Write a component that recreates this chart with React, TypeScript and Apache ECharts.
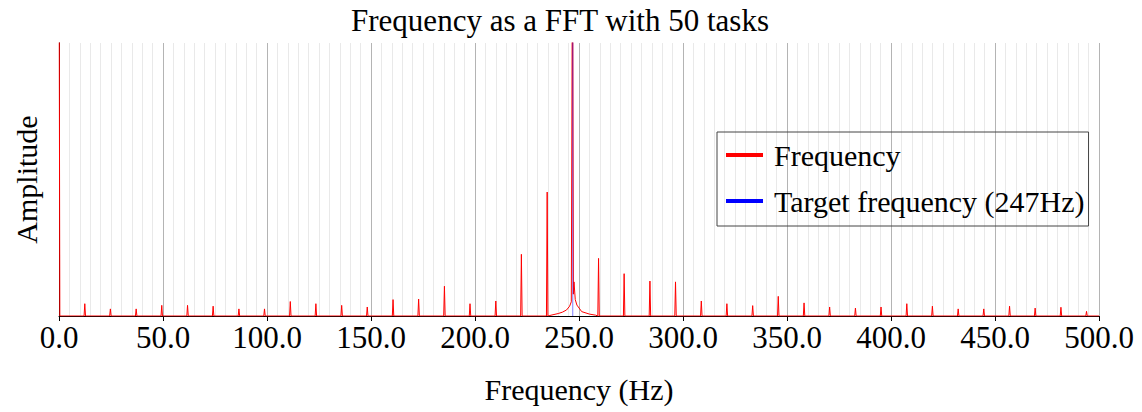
import React, { useEffect, useRef } from "react";
import * as echarts from "echarts";

const TITLE = "Frequency as a FFT with 50 tasks";
const X_NAME = "Frequency (Hz)";
const Y_NAME = "Amplitude";
const SERIES_FFT = "Frequency";
const SERIES_TARGET = "Target frequency (247Hz)";
const TARGET_FREQ = 247;

// x axis ticks (Hz)
const xTicks = [0, 50, 100, 150, 200, 250, 300, 350, 400, 450, 500];

// DC component (goes off the top of the plot)
const dcPoints: [number, number][] = [
  [0, 150],
  [0.4, 0],
];

// harmonic peaks (Hz) and their amplitudes
const peakFreqs = [
  12.4, 24.7, 37.1, 49.4, 61.8, 74.1, 86.5, 98.8, 111.2, 123.5,
  135.9, 148.2, 160.6, 172.9, 185.3, 197.6, 210.0, 222.3, 234.7,
  259.4, 271.7, 284.1, 296.4, 308.8, 321.1, 333.5, 345.8, 358.2, 370.5,
  382.9, 395.2, 407.6, 419.9, 432.3, 444.6, 457.0, 469.3, 481.7, 494.0,
];
const peakAmps = [
  4.5, 2.6, 2.6, 3.9, 3.9, 3.6, 2.6, 2.6, 5.3, 4.5,
  3.9, 3.3, 6.0, 6.2, 10.9, 4.5, 5.5, 22.6, 45.4,
  21.1, 15.5, 12.8, 12.5, 5.5, 4.5, 3.8, 7.2, 4.8, 3.3,
  2.9, 3.3, 4.5, 3.6, 2.6, 2.6, 3.6, 2.9, 3.2, 1.7,
];

// resonance skirt around the target frequency
const skirtFreqs = [236, 240, 242, 244, 245.5, 246.3, 246.9, 247.3, 247.6, 248.2, 249, 251.3, 255, 258];
const skirtAmps = [0.2, 0.9, 1.4, 2.2, 3.6, 5.2, 150, 8, 12.5, 6, 4, 1.6, 0.7, 0.3];

// target frequency marker
const targetPoints: [number, number][] = [
  [TARGET_FREQ, 0],
  [TARGET_FREQ, 150],
];

const PEAK_HALF_WIDTH = 0.35;

function buildFft(): [number, number][] {
  const pts: [number, number][] = [...dcPoints];
  peakFreqs.forEach((f, i) => {
    pts.push([f - PEAK_HALF_WIDTH, 0], [f, peakAmps[i]], [f + PEAK_HALF_WIDTH, 0]);
  });
  skirtFreqs.forEach((f, i) => pts.push([f, skirtAmps[i]]));
  pts.push([500, 0]);
  pts.sort((a, b) => a[0] - b[0]);
  return pts;
}

const FONT = "'Liberation Serif', 'Times New Roman', serif";

export default function App() {
  const ref = useRef<HTMLDivElement>(null);
  useEffect(() => {
    document.body.style.margin = "0";
    if (!ref.current) return;
    const chart = echarts.init(ref.current, null, { renderer: "svg" });
    chart.setOption({
      animation: false,
      backgroundColor: "#ffffff",
      title: {
        text: TITLE,
        left: 555,
        textAlign: "center",
        top: 0,
        textStyle: { fontFamily: FONT, fontSize: 31, fontWeight: "normal", color: "#000" },
      },
      legend: {
        orient: "vertical",
        left: 717,
        top: 132,
        padding: [5, 4, 7, 9],
        itemGap: 10,
        itemWidth: 37,
        itemHeight: 4,
        icon: "rect",
        borderColor: "#444",
        borderWidth: 1,
        backgroundColor: "transparent",
        textStyle: {
          fontFamily: FONT,
          fontSize: 30,
          color: "#000",
          lineHeight: 36,
          padding: [0, 0, 0, 6],
        },
        data: [
          { name: SERIES_FFT, itemStyle: { color: "#ff0000", opacity: 1 } },
          { name: SERIES_TARGET, itemStyle: { color: "#0000ff", opacity: 1 } },
        ],
      },
      grid: { left: 59, right: 43, top: 43, bottom: 96, containLabel: false },
      xAxis: {
        type: "value",
        min: xTicks[0],
        max: xTicks[xTicks.length - 1],
        interval: xTicks[1] - xTicks[0],
        name: X_NAME,
        nameLocation: "middle",
        nameGap: 58,
        nameTextStyle: { fontFamily: FONT, fontSize: 30, color: "#000" },
        axisLine: { show: true, onZero: false, lineStyle: { color: "#000", width: 1 } },
        axisTick: { show: true, length: 5, lineStyle: { color: "#000" } },
        axisLabel: {
          fontFamily: FONT,
          fontSize: 31,
          color: "#000",
          margin: 6,
          formatter: (v: number) => v.toFixed(1),
        },
        splitLine: { show: true, lineStyle: { color: "#b4b4b4", width: 1 } },
        minorTick: { show: false, splitNumber: 10 },
        minorSplitLine: { show: true, lineStyle: { color: "#e9e9e9", width: 1 } },
      },
      yAxis: {
        type: "value",
        min: 0,
        max: 100,
        name: Y_NAME,
        nameLocation: "middle",
        nameGap: 18,
        nameRotate: 90,
        nameTextStyle: { fontFamily: FONT, fontSize: 30, color: "#000" },
        axisLine: { show: true, lineStyle: { color: "#000", width: 1 } },
        axisTick: { show: false },
        axisLabel: { show: false },
        splitLine: { show: false },
      },
      series: [
        {
          name: SERIES_FFT,
          type: "line",
          data: buildFft(),
          showSymbol: false,
          symbol: "none",
          clip: true,
          lineStyle: { color: "#ff0000", width: 1 },
          itemStyle: { color: "#ff0000" },
          z: 3,
        },
        {
          name: SERIES_TARGET,
          type: "line",
          data: targetPoints,
          showSymbol: false,
          symbol: "none",
          clip: true,
          lineStyle: { color: "#0000ff", width: 1, opacity: 0.5 },
          itemStyle: { color: "#0000ff" },
          z: 4,
        },
      ],
    });
    return () => chart.dispose();
  }, []);
  return <div ref={ref} style={{ width: 1142, height: 412 }} />;
}
